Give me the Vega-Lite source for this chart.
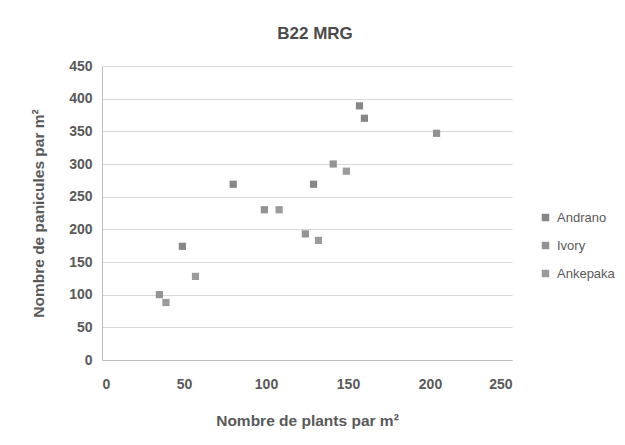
{
  "$schema": "https://vega.github.io/schema/vega-lite/v6.json",
  "width": 410,
  "height": 294,
  "autosize": {"type": "none"},
  "padding": {"left": 102, "top": 66, "right": 113, "bottom": 85},
  "background": "white",
  "title": {
    "text": "B22 MRG",
    "font": "Liberation Sans Narrow, Liberation Sans",
    "fontSize": 17,
    "fontWeight": "bold",
    "color": "#4a4a4a",
    "anchor": "middle",
    "dx": 8,
    "offset": 16
  },
  "config": {
    "view": {"stroke": null},
    "font": "Liberation Sans Narrow, Liberation Sans"
  },
  "data": {
    "values": [
      {"site": "Andrano", "plants": 49, "panicules": 174},
      {"site": "Andrano", "plants": 80, "panicules": 269},
      {"site": "Andrano", "plants": 129, "panicules": 269},
      {"site": "Andrano", "plants": 157, "panicules": 389},
      {"site": "Andrano", "plants": 160, "panicules": 370},
      {"site": "Ivory", "plants": 35, "panicules": 100},
      {"site": "Ivory", "plants": 99, "panicules": 230},
      {"site": "Ivory", "plants": 124, "panicules": 193},
      {"site": "Ivory", "plants": 141, "panicules": 300},
      {"site": "Ivory", "plants": 204, "panicules": 347},
      {"site": "Ankepaka", "plants": 39, "panicules": 88},
      {"site": "Ankepaka", "plants": 57, "panicules": 128},
      {"site": "Ankepaka", "plants": 108, "panicules": 230},
      {"site": "Ankepaka", "plants": 132, "panicules": 183},
      {"site": "Ankepaka", "plants": 149, "panicules": 289}
    ]
  },
  "mark": {"type": "square", "size": 52, "opacity": 1},
  "encoding": {
    "x": {
      "field": "plants",
      "type": "quantitative",
      "scale": {"domain": [0, 250], "nice": false},
      "axis": {
        "title": "Nombre de plants par m²",
        "values": [0, 50, 100, 150, 200, 250],
        "grid": false,
        "domainColor": "#bfbfbf",
        "ticks": false,
        "labelFontSize": 14,
        "labelFontWeight": "bold",
        "labelColor": "#595959",
        "labelPadding": 17,
        "titleFontSize": 15.5,
        "titleFontWeight": "bold",
        "titleColor": "#595959",
        "titlePadding": 22
      }
    },
    "y": {
      "field": "panicules",
      "type": "quantitative",
      "scale": {"domain": [0, 450], "nice": false},
      "axis": {
        "title": "Nombre de panicules par m²",
        "values": [0, 50, 100, 150, 200, 250, 300, 350, 400, 450],
        "grid": true,
        "gridColor": "#d9d9d9",
        "domainColor": "#bfbfbf",
        "ticks": false,
        "labelFontSize": 14,
        "labelFontWeight": "bold",
        "labelColor": "#595959",
        "labelPadding": 10,
        "titleFontSize": 15.5,
        "titleFontWeight": "bold",
        "titleColor": "#595959",
        "titlePadding": 22
      }
    },
    "color": {
      "field": "site",
      "type": "nominal",
      "sort": ["Andrano", "Ivory", "Ankepaka"],
      "scale": {"domain": ["Andrano", "Ivory", "Ankepaka"], "range": ["#878787", "#939393", "#9b9b9b"]},
      "legend": {
        "title": null,
        "orient": "none",
        "legendX": 437,
        "legendY": 145,
        "symbolType": "square",
        "symbolSize": 56,
        "symbolStrokeWidth": 0,
        "labelFontSize": 13,
        "labelColor": "#595959",
        "labelOffset": 5,
        "rowPadding": 14
      }
    }
  }
}
